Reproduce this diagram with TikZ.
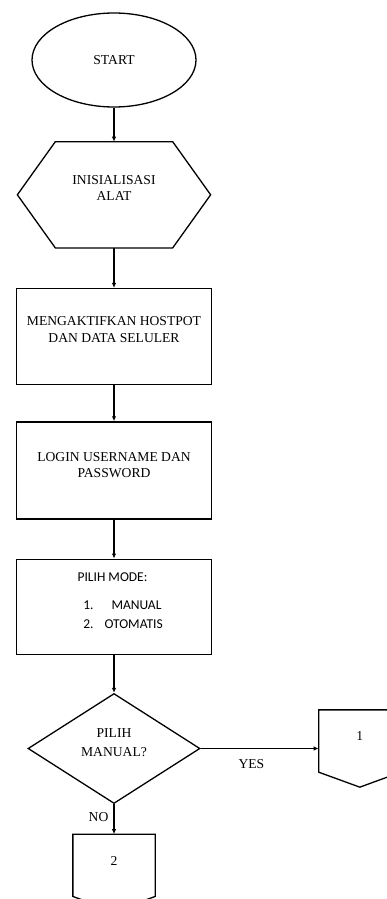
\documentclass[tikz,border=0pt]{standalone}
\usepackage{fontspec}
\setmainfont{Liberation Serif}
\newfontfamily\calibri{Carlito}
\usetikzlibrary{shapes.geometric,positioning,arrows.meta}

\begin{document}
\begin{tikzpicture}[x=1pt, y=-1pt, line width=1.3pt, font=\fontsize{13.6}{16.5}\selectfont,
	terminal/.style={ellipse, draw, minimum width=164pt, minimum height=94pt, inner sep=0pt},
	prep/.style={minimum width=192pt, minimum height=105pt, inner sep=0pt},
	process/.style={rectangle, draw, minimum width=195pt, minimum height=#1, inner sep=0pt},
	process/.default=96pt,
	decision/.style={diamond, draw, aspect=1.56, minimum width=172pt, minimum height=110pt, inner sep=0pt},
	offpage/.style={minimum width=81pt, minimum height=76pt, inner sep=0pt},
	txt/.style={align=center, inner sep=0pt},
	flow/.style={-{Latex[length=5pt,width=4.5pt]}}]
	\clip (0,0) rectangle (387,899);
	\node[terminal] (start) at (114,60) {START};
	\node[prep, below=34pt of start] (init) {};
	\draw (init.west) -- ([xshift=38pt]init.north west) -- ([xshift=-38pt]init.north east) -- (init.east)
		-- ([xshift=-38pt]init.south east) -- ([xshift=38pt]init.south west) -- cycle;
	\node[txt] (init-txt) at ([yshift=7pt]init.center) {INISIALISASI\\ALAT};
	\node[process, below=40pt of init] (hotspot) {};
	\node[txt] (hotspot-txt) at ([yshift=7pt]hotspot.center) {MENGAKTIFKAN HOSTPOT\\DAN DATA SELULER};
	\node[process=97pt, below=36pt of hotspot] (login) {};
	\node[txt] (login-txt) at ([yshift=5.5pt]login.center) {LOGIN USERNAME DAN\\PASSWORD};
	\node[process=95pt, below=39pt of login] (mode) {};
	\node[txt, font=\calibri\fontsize{13.5}{19}\selectfont] (mode-title) at ([xshift=-1.5pt,yshift=-19pt]mode.north) {PILIH MODE:};
	\node[txt, align=left, font=\calibri\fontsize{13.5}{19}\selectfont] (mode-list) at ([xshift=9pt,yshift=-56.5pt]mode.north)
		{1.\hspace{18pt}MANUAL\\2.\hspace{11pt}OTOMATIS};
	\node[decision, below=38pt of mode] (pilih) {};
	\node[txt, font=\fontsize{13.6}{19}\selectfont] (pilih-txt) at ([yshift=6pt]pilih.center) {PILIH\\MANUAL?};
	\node[offpage, below=30pt of pilih] (c2) {};
	\draw (c2.north west) -- (c2.north east) -- ([yshift=15pt]c2.south east) -- (c2.south)
		-- ([yshift=15pt]c2.south west) -- cycle;
	\node[txt] (c2-txt) at ([yshift=-27pt]c2.north) {2};
	\node[offpage, right=118pt of pilih] (c1) {};
	\draw (c1.north west) -- (c1.north east) -- ([yshift=15pt]c1.south east) -- (c1.south)
		-- ([yshift=15pt]c1.south west) -- cycle;
	\node[txt] (c1-txt) at ([yshift=-26pt]c1.north) {1};
	\draw[flow] (start) -- (init);
	\draw[flow] (init) -- (hotspot);
	\draw[flow] (hotspot) -- (login);
	\draw[flow] (login) -- (mode);
	\draw[flow] (mode) -- (pilih);
	\draw[flow] (pilih.east) -- node[txt, pos=0.43, below=10pt] (yes) {YES} (c1.west);
	\draw[flow] (pilih.south) -- node[txt, pos=0.43, left=5pt] (no) {NO} (c2.north);
\end{tikzpicture}
\end{document}
